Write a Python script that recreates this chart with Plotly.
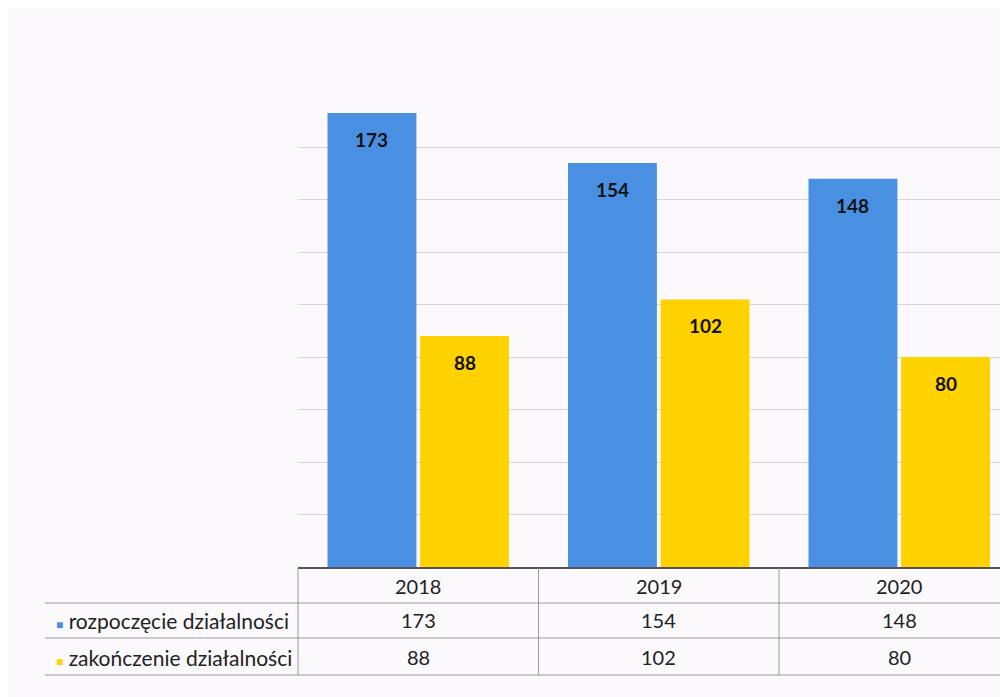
import plotly.graph_objects as go

# ---- data ----
years = ["2018", "2019", "2020"]
series_names = ["rozpoczęcie działalności", "zakończenie działalności"]
start_values = [173, 154, 148]
end_values = [88, 102, 80]
series_values = [start_values, end_values]
colors = ["#4A90E2", "#FFD200"]

# ---- layout geometry (page pixels; page body has an 8px margin) ----
OFF = 8
PAGE_W, PAGE_H = 1008, 697
W, H = PAGE_W - OFF, PAGE_H - OFF
PLOT_LEFT, PLOT_TOP, PLOT_BOTTOM = 298, 95, 567   # page pixels
L = PLOT_LEFT - OFF
T = PLOT_TOP - OFF
B = PAGE_H - PLOT_BOTTOM
R = 0
cat_px = 240.5
plot_w = W - L - R
plot_h = H - T - B
x_lo = -0.5
x_hi = -0.5 + plot_w / cat_px
bargap = 0.23
FONT = "Lato"
BG = "#fbf9fc"

def py(p):  # page pixel row -> paper y
    return (PLOT_BOTTOM - p) / plot_h

def px(p):  # page pixel column -> paper x
    return (p - PLOT_LEFT) / plot_w

def cx(v):  # category index -> paper x
    return (v - x_lo) / (x_hi - x_lo)

fig = go.Figure()
for name, vals, col in zip(series_names, series_values, colors):
    fig.add_bar(x=years, y=vals, name=name, marker_color=col,
                marker_line_width=0, showlegend=False)

annotations = []
slot_px = cat_px * (1 - bargap) / 2
for si, vals in enumerate(series_values):
    shift = (si - 0.5) * slot_px
    for i, v in enumerate(vals):
        annotations.append(dict(x=i, y=v, xref="x", yref="y", text=f"<b>{v}</b>",
                                showarrow=False, yanchor="top", xanchor="center",
                                yshift=-13, xshift=shift,
                                font=dict(family=FONT, size=19, color="#111111")))

# table text
row_y = [py(586), py(620), py(657)]
for i, yr in enumerate(years):
    annotations.append(dict(x=cx(i), y=row_y[0], xref="paper", yref="paper", text=yr,
                            xanchor="center", yanchor="middle", showarrow=False,
                            font=dict(family=FONT, size=20, color="#222222")))
    for r, vals in enumerate(series_values):
        annotations.append(dict(x=cx(i), y=row_y[r + 1], xref="paper", yref="paper",
                                text=str(vals[i]), showarrow=False,
                                xanchor="center", yanchor="middle",
                                font=dict(family=FONT, size=20, color="#222222")))
for r, (name, col) in enumerate(zip(series_names, colors)):
    annotations.append(dict(x=px(54), y=row_y[r + 1], xref="paper", yref="paper",
                            xanchor="left", yanchor="middle",
                            text=f'<span style="color:{col};font-size:12px">■</span> {name}',
                            showarrow=False, font=dict(family=FONT, size=21, color="#222222")))

shapes = []
line_c = "#9a9a9a"
for p in [603, 638, 675]:
    shapes.append(dict(type="line", xref="paper", yref="paper", x0=px(45), x1=1.0,
                       y0=py(p), y1=py(p), line=dict(color=line_c, width=1)))
for v in [-0.5, 0.5, 1.5]:
    shapes.append(dict(type="line", xref="paper", yref="paper", x0=cx(v), x1=cx(v),
                       y0=py(568), y1=py(675), line=dict(color=line_c, width=1)))

fig.update_layout(
    width=W, height=H,
    margin=dict(l=L, r=R, t=T, b=B),
    paper_bgcolor=BG,
    plot_bgcolor=BG,
    barmode="group", bargap=bargap, bargroupgap=0.04,
    font=dict(family=FONT),
    annotations=annotations,
    shapes=shapes,
)
fig.update_xaxes(type="category", range=[x_lo, x_hi], showticklabels=False, showgrid=False,
                 showline=True, linecolor="#555555", linewidth=2, ticks="")
fig.update_yaxes(range=[0, 179.9], dtick=20, showticklabels=False, showgrid=True,
                 gridcolor="#d6d6d6", gridwidth=1, zeroline=False)

fig.write_html("out.html")
